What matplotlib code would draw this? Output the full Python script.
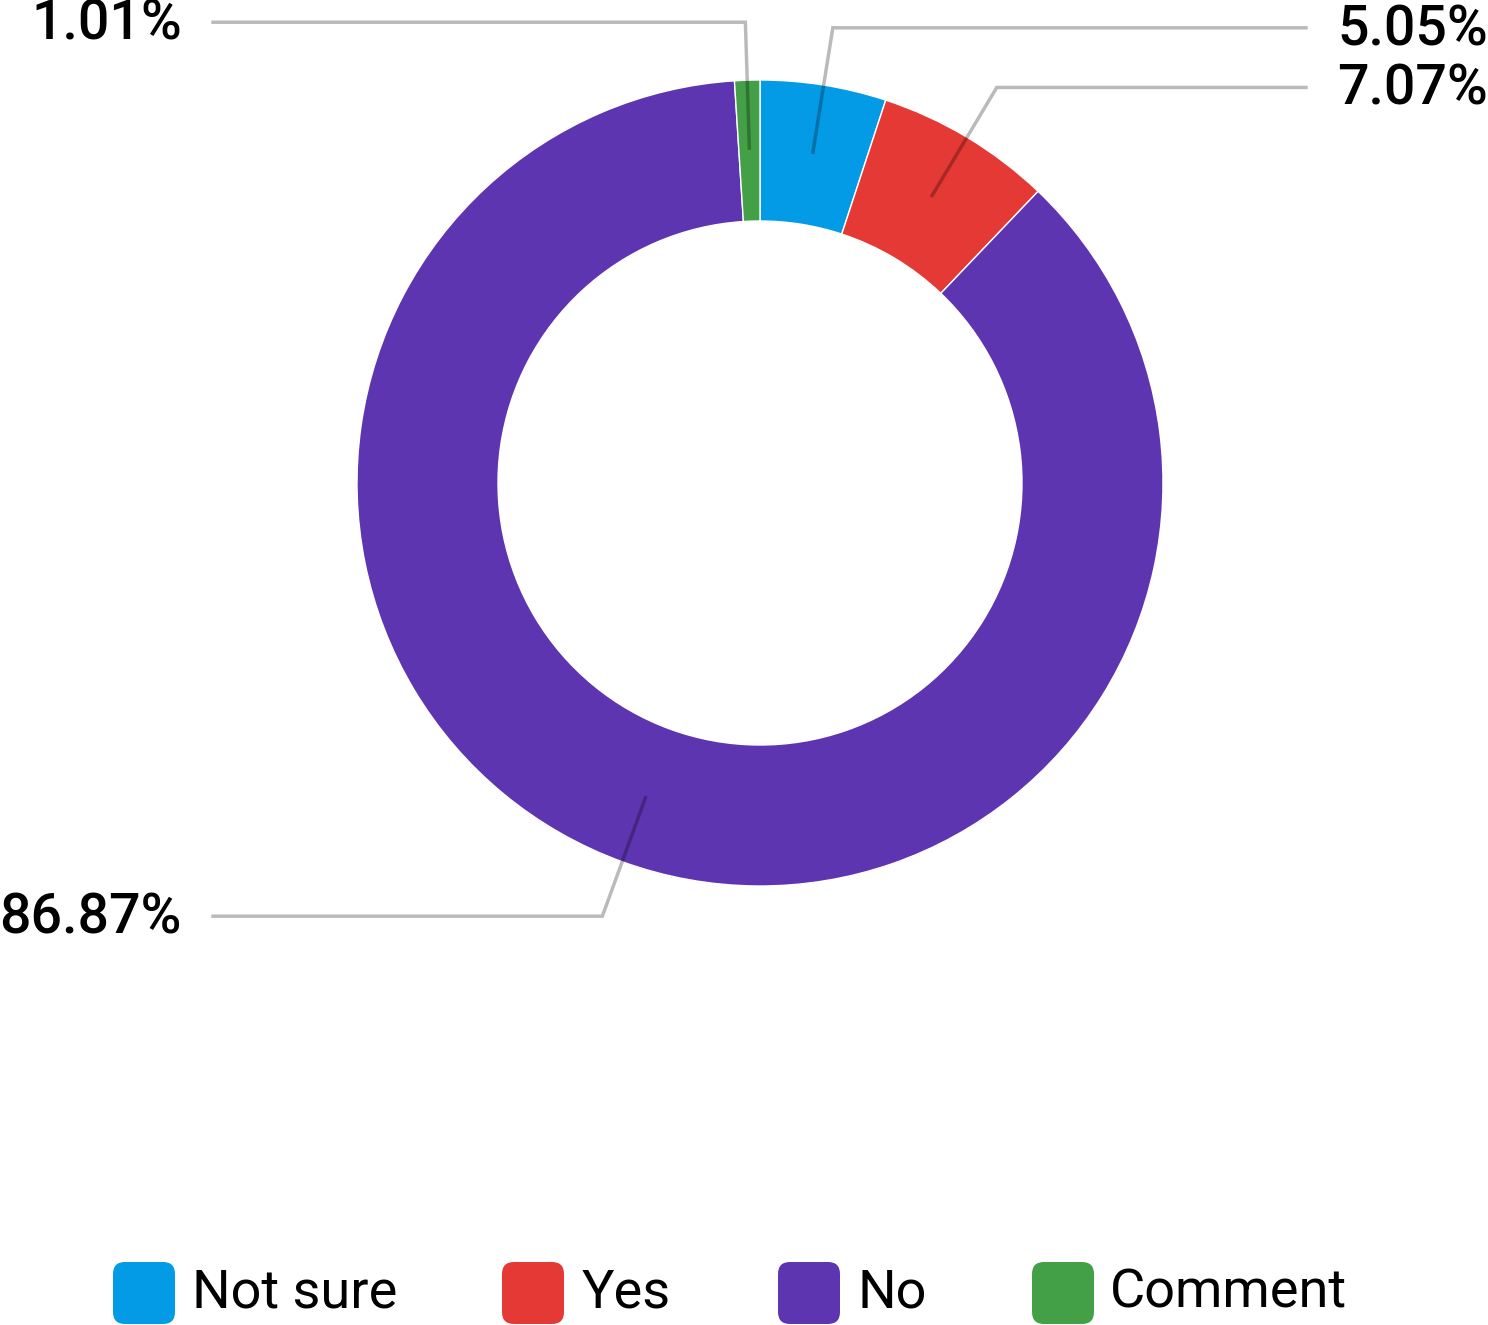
import matplotlib
matplotlib.use('Agg')
import matplotlib.pyplot as plt
import numpy as np
from matplotlib.patches import FancyBboxPatch

categories = ['Not sure', 'Yes', 'No', 'Comment']
values = [5.05, 7.07, 86.87, 1.01]
labels = ['5.05%', '7.07%', '86.87%', '1.01%']
colors = ['#039BE5', '#E53935', '#5E35B1', '#43A047']

FONT = ['Roboto', 'DejaVu Sans']
W, H = 1488, 1325
fig = plt.figure(figsize=(W / 100, H / 100), dpi=100)
ax = fig.add_axes([0, 0, 1, 1])
cx, cy = 760, 483
R, ring = 403, 141

ax.pie(values, colors=colors, center=(cx, cy), radius=R, startangle=-90,
       counterclock=True, frame=True,
       wedgeprops=dict(width=ring, edgecolor='white', linewidth=1))
ax.set_xlim(0, W)
ax.set_ylim(H, 0)
ax.set_aspect('equal')
ax.axis('off')

# leader lines and labels
total = sum(values)
cum = 0.0
for v, lab in zip(values, labels):
    mid = cum + v / 2
    cum += v
    ang = np.deg2rad(-90 + 360 * mid / total)
    ax_, ay_ = cx + 335 * np.cos(ang), cy + 335 * np.sin(ang)
    ex, ey = cx + 461 * np.cos(ang), cy + 461 * np.sin(ang)
    right = np.cos(ang) > 0
    endx = 1306 if right else 213
    ax.plot([ax_, ex, endx], [ay_, ey, ey], color='black', alpha=0.27, lw=2.5,
            solid_joinstyle='miter', zorder=5)
    ax.text(1337 if right else 182, ey + 2, lab, ha='left' if right else 'right',
            va='center', fontsize=40, family=FONT, fontweight='medium',
            color='black', clip_on=False)

# legend
sq_x = [113, 502, 778, 1032]
tx_x = [192, 582, 857, 1110]
for c, name, sx, tx in zip(colors, categories, sq_x, tx_x):
    p = FancyBboxPatch((sx, 1262), 62, 62, boxstyle='round,pad=0,rounding_size=12',
                       facecolor=c, edgecolor='none', clip_on=False)
    ax.add_patch(p)
    ax.text(tx, 1293, name, ha='left', va='center', fontsize=39, family=FONT,
            color='black')

fig.savefig('out.png', dpi=100)
